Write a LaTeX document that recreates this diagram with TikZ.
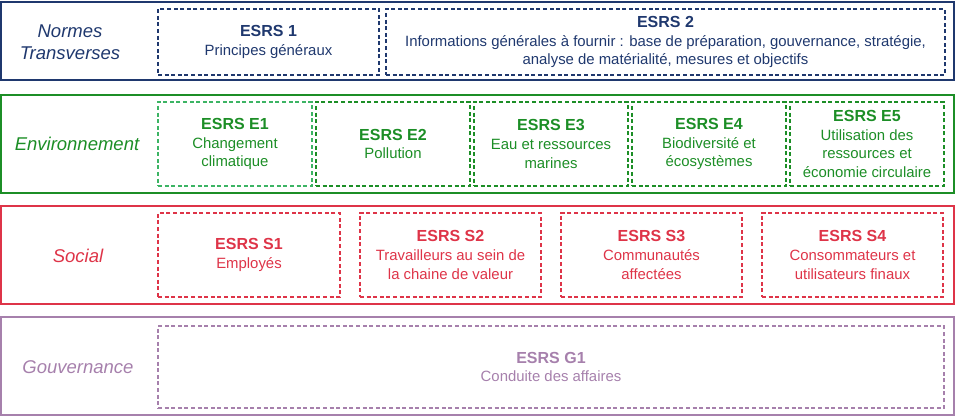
\documentclass[tikz,border=0pt]{standalone}
\usepackage{fontspec}
\setmainfont{Liberation Sans}
\definecolor{navy}{RGB}{31,56,110}
\definecolor{envgreen}{RGB}{28,142,38}
\definecolor{lightgreen}{RGB}{60,180,100}
\definecolor{socred}{RGB}{222,52,72}
\definecolor{govpurple}{RGB}{166,128,172}
\tikzset{
  band/.style={draw, line width=1.4pt, rectangle, inner sep=0pt},
  cat/.style={font=\fontsize{18.5}{22}\selectfont\itshape, align=center, inner sep=0pt},
  esrsbox/.style={draw, dashed, dash pattern=on 4pt off 2.6pt, line width=1.2pt, rectangle, inner sep=0pt, align=center, font=\fontsize{14.9}{18.7}\selectfont},
}
\newcommand{\ttl}[1]{{\fontsize{16}{18.7}\selectfont\bfseries #1}}
\begin{document}
\begin{tikzpicture}[x=1pt,y=-1pt]
\useasboundingbox (0,0) rectangle (956,417);
% bands
\node[band, draw=navy, minimum width=953pt, minimum height=78pt] (b1) at (477.5,41) {};
\node[band, draw=envgreen, minimum width=953pt, minimum height=98pt] (b2) at (477.5,144) {};
\node[band, draw=socred, minimum width=953pt, minimum height=98pt] (b3) at (477.5,255) {};
\node[band, draw=govpurple, minimum width=953pt, minimum height=98pt] (b4) at (477.5,366) {};
% category labels
\node[cat, text=navy] (l1) at (70,42) {Normes\\Transverses};
\node[cat, text=envgreen] (l2) at (77,144) {Environnement};
\node[cat, text=socred] (l3) at (78,256) {Social};
\node[cat, text=govpurple] (l4) at (78,367) {Gouvernance};
% Normes transverses
\node[esrsbox, draw=navy, text=navy, minimum width=221pt, minimum height=66pt] (n1) at (268.5,42) {\ttl{ESRS 1}\\Principes généraux};
\node[esrsbox, draw=navy, text=navy, minimum width=559pt, minimum height=66pt] (n2) at (665.5,42) {\ttl{ESRS 2}\\Informations générales à fournir : base de préparation, gouvernance, stratégie,\\analyse de matérialité, mesures et objectifs};
% Environnement
\node[esrsbox, draw=lightgreen, text=envgreen, minimum width=154pt, minimum height=84pt] (e1) at (235,144) {\ttl{ESRS E1}\\Changement\\climatique};
\node[esrsbox, draw=envgreen, text=envgreen, minimum width=154pt, minimum height=84pt] (e2) at (393,144) {\ttl{ESRS E2}\\Pollution};
\node[esrsbox, draw=envgreen, text=envgreen, minimum width=154pt, minimum height=84pt] (e3) at (551,144) {\ttl{ESRS E3}\\Eau et ressources\\marines};
\node[esrsbox, draw=envgreen, text=envgreen, minimum width=154pt, minimum height=84pt] (e4) at (709,144) {\ttl{ESRS E4}\\Biodiversité et\\écosystèmes};
\node[esrsbox, draw=envgreen, text=envgreen, minimum width=154pt, minimum height=84pt] (e5) at (867,144) {\ttl{ESRS E5}\\Utilisation des\\ressources et\\économie circulaire};
% Social
\node[esrsbox, draw=socred, text=socred, minimum width=182pt, minimum height=84pt] (s1) at (249,255) {\ttl{ESRS S1}\\Employés};
\node[esrsbox, draw=socred, text=socred, minimum width=181pt, minimum height=84pt] (s2) at (450.5,255) {\ttl{ESRS S2}\\Travailleurs au sein de\\la chaine de valeur};
\node[esrsbox, draw=socred, text=socred, minimum width=181pt, minimum height=84pt] (s3) at (651.5,255) {\ttl{ESRS S3}\\Communautés\\affectées};
\node[esrsbox, draw=socred, text=socred, minimum width=181pt, minimum height=84pt] (s4) at (852.5,255) {\ttl{ESRS S4}\\Consommateurs et\\utilisateurs finaux};
% Gouvernance
\node[esrsbox, draw=govpurple, text=govpurple, minimum width=786pt, minimum height=82pt] (g1) at (551,367) {\ttl{ESRS G1}\\Conduite des affaires};
\end{tikzpicture}
\end{document}
